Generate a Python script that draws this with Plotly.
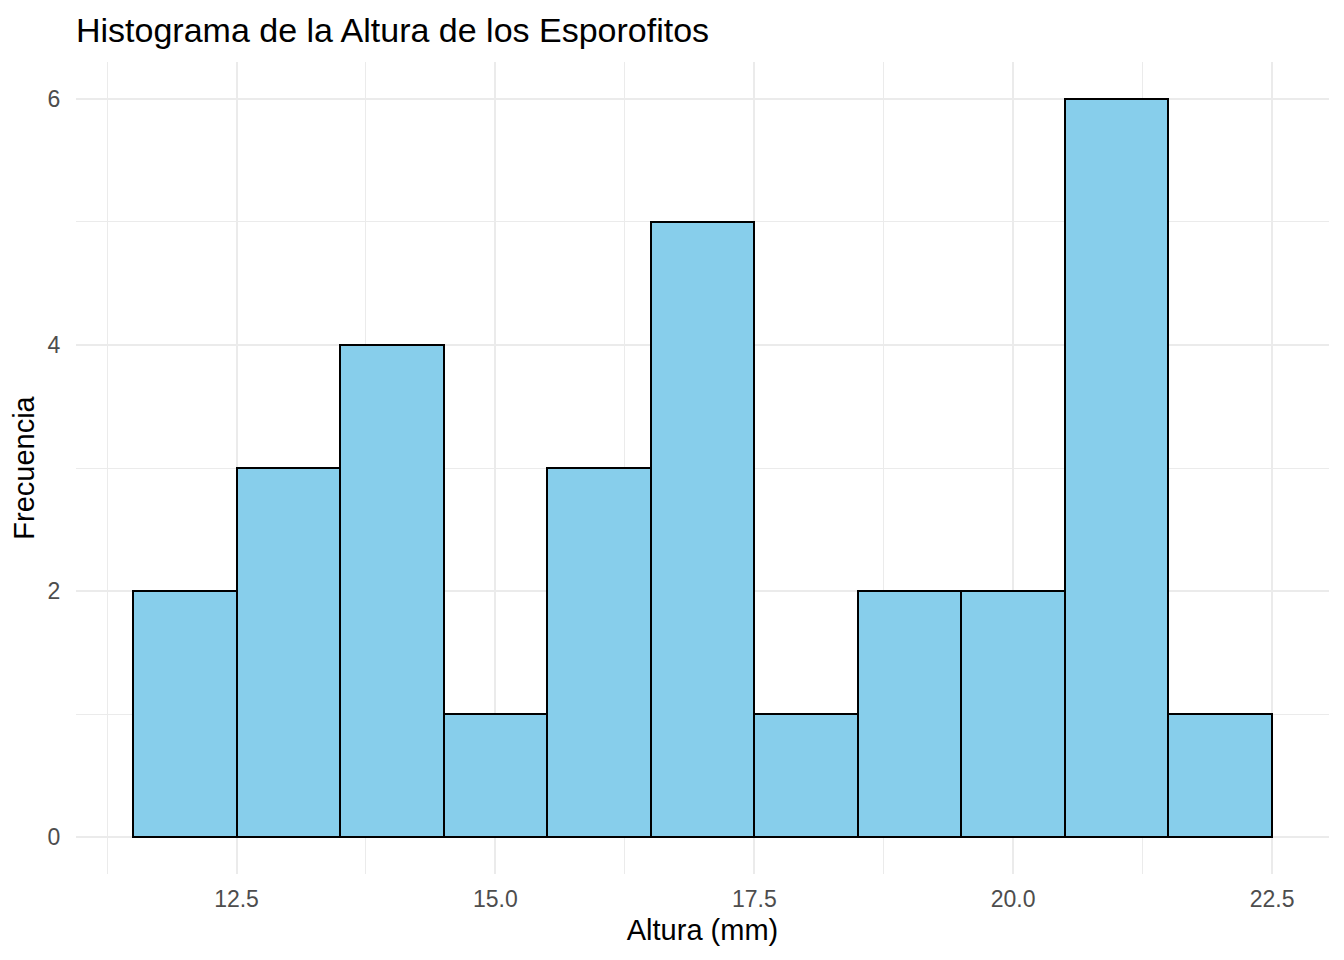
import plotly.graph_objects as go

bin_centers = [12, 13, 14, 15, 16, 17, 18, 19, 20, 21, 22]
counts = [2, 3, 4, 1, 3, 5, 1, 2, 2, 6, 1]
bin_width = 1.0
x_ticks = [12.5, 15.0, 17.5, 20.0, 22.5]
x_tick_labels = ["12.5", "15.0", "17.5", "20.0", "22.5"]
y_ticks = [0, 2, 4, 6]

FONT = "Liberation Sans, Arial, sans-serif"
W, H = 1336, 952

fig = go.Figure(
    go.Bar(
        x=bin_centers,
        y=counts,
        width=bin_width,
        marker=dict(color="#87CEEB", line=dict(color="black", width=2)),
        hoverinfo="x+y",
    )
)

fig.update_layout(
    width=W,
    height=H,
    margin=dict(l=68, r=15, t=54, b=86),
    paper_bgcolor="white",
    plot_bgcolor="white",
    showlegend=False,
    font=dict(family=FONT, color="black"),
    title=dict(
        text="Histograma de la Altura de los Esporofitos",
        x=0, xref="paper", xanchor="left",
        y=1 - 22 / H, yref="container", yanchor="middle",
        font=dict(size=34, color="black", family=FONT),
    ),
    bargap=0,
)

fig.update_xaxes(
    range=[10.95, 23.05],
    tickvals=x_ticks,
    ticktext=x_tick_labels,
    tickfont=dict(size=23, color="#4D4D4D"),
    ticks="outside", ticklen=4, tickcolor="rgba(0,0,0,0)",
    showgrid=True, gridcolor="#EBEBEB", gridwidth=2,
    minor=dict(dtick=2.5, tick0=11.25, showgrid=True, gridcolor="#EBEBEB", gridwidth=1),
    zeroline=False, showline=False,
    title=dict(text="Altura (mm)", font=dict(size=29, color="black"), standoff=9),
)

fig.update_yaxes(
    range=[-0.3, 6.3],
    tickvals=y_ticks,
    tickfont=dict(size=23, color="#4D4D4D"),
    ticks="outside", ticklen=10, tickcolor="rgba(0,0,0,0)",
    showgrid=True, gridcolor="#EBEBEB", gridwidth=2,
    minor=dict(dtick=2, tick0=1, showgrid=True, gridcolor="#EBEBEB", gridwidth=1),
    zeroline=False, showline=False,
    title=dict(text="Frecuencia", font=dict(size=29, color="black"), standoff=4),
)

fig.write_html("out.html")
